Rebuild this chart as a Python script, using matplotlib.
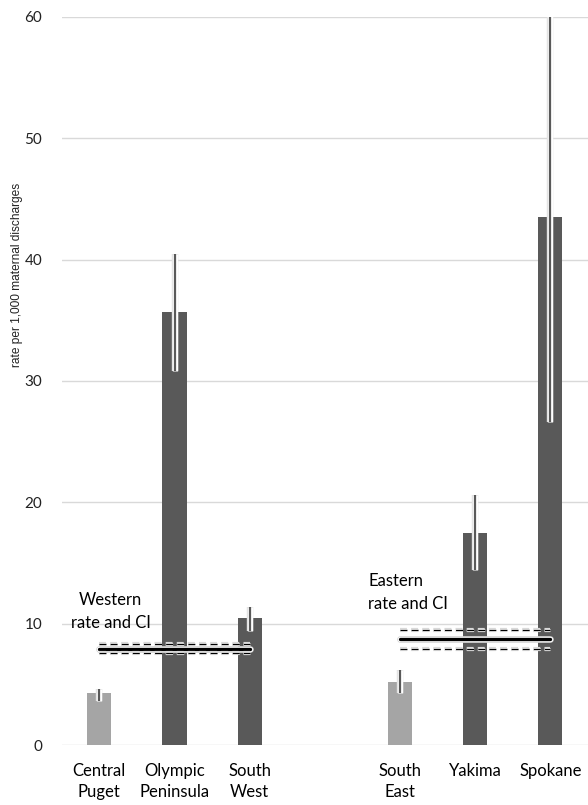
import matplotlib
matplotlib.use("Agg")
import matplotlib.pyplot as plt
import matplotlib.patheffects as pe
import numpy as np

plt.rcParams['font.family'] = ['Lato', 'DejaVu Sans']

categories = ["Central\nPuget", "Olympic\nPeninsula", "South\nWest", "", "South\nEast", "Yakima", "Spokane"]
rates = [4.3, 35.7, 10.5, None, 5.2, 17.5, 43.5]
ci_low = [3.6, 30.8, 9.4, None, 4.3, 14.4, 26.6]
ci_high = [4.6, 40.5, 11.4, None, 6.2, 20.6, 62.0]
bar_colors = ["#a5a5a5", "#595959", "#595959", None, "#a5a5a5", "#595959", "#595959"]

western_rate, western_lo, western_hi = 7.95, 7.55, 8.35
eastern_rate, eastern_lo, eastern_hi = 8.7, 7.95, 9.45

fig = plt.figure(figsize=(5.88, 8.05), dpi=100)
ax = fig.add_axes([0.105, 0.0745, 0.895, 0.9045])

x = np.arange(len(categories))
glow = [pe.Stroke(linewidth=4.6, foreground="#e0e0e0"), pe.Stroke(linewidth=3.8, foreground="white"), pe.Normal()]

for i in range(len(categories)):
    if rates[i] is None:
        continue
    ax.bar(x[i], rates[i], width=0.32, color=bar_colors[i], zorder=2)
    ax.plot([x[i], x[i]], [ci_low[i], ci_high[i]], color="#595959", lw=1.6,
            solid_capstyle="butt", path_effects=glow, zorder=3, clip_on=True)

def refline(x0, x1, r, lo, hi):
    ax.plot([x0, x1], [r, r], color="black", lw=2.4, solid_capstyle="round",
            path_effects=[pe.Stroke(linewidth=4.8, foreground="#d0d0d0"), pe.Stroke(linewidth=3.8, foreground="white"), pe.Normal()], zorder=4)
    for v in (lo, hi):
        ax.plot([x0, x1], [v, v], color="black", lw=1.0, dashes=(5, 3),
                path_effects=[pe.Stroke(linewidth=3, foreground="#d8d8d8"), pe.Stroke(linewidth=2.2, foreground="white"), pe.Normal()], zorder=4)

refline(0, 2, western_rate, western_lo, western_hi)
refline(4, 6, eastern_rate, eastern_lo, eastern_hi)

ax.text(0.15, 11.0, "Western\nrate and CI", ha="center", va="center", fontsize=12, color="black",
        linespacing=1.5)
ax.text(3.58, 12.55, "Eastern\nrate and CI", ha="left", va="center", fontsize=12, color="black",
        linespacing=1.5)

ax.set_xlim(-0.5, 6.5)
ax.set_ylim(0, 60)
ax.set_yticks(range(0, 61, 10))
ax.yaxis.grid(True, color="#d9d9d9", lw=1)
ax.set_axisbelow(True)
for s in ax.spines.values():
    s.set_visible(False)
ax.set_xticks(x)
ax.set_xticklabels(categories, fontsize=12, color="black", linespacing=1.35)
ax.tick_params(axis="both", length=0)
ax.tick_params(axis="y", labelsize=11, pad=14, labelcolor="#222222")
ax.tick_params(axis="x", pad=13)

fig.text(17 / 588, 1 - 275 / 805, "rate per 1,000 maternal discharges", rotation=90,
         ha="center", va="center", fontsize=8.6,
         family=['Liberation Sans', 'DejaVu Sans'], color="#222222")

fig.savefig("out.png", dpi=100)
